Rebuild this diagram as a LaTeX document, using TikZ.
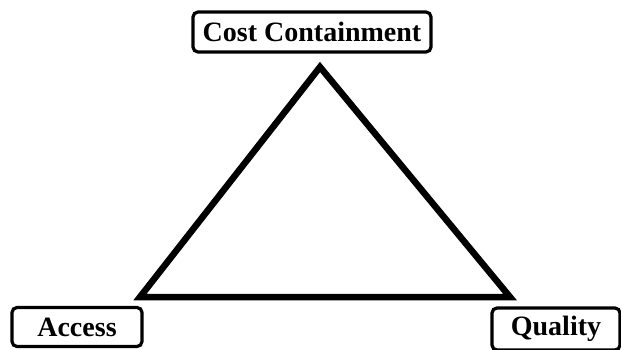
\documentclass[tikz,border=0pt]{standalone}
\usepackage{fontspec}
\setmainfont{Liberation Serif}
\begin{document}
\begin{tikzpicture}[x=1pt,y=1pt,
  label box/.style={draw, line width=3.2pt, rounded corners=5pt, inner sep=0pt, font=\fontsize{28}{30}\selectfont\bfseries},
  tri/.style={line width=6.5pt, line join=miter}]
\useasboundingbox (0,0) rectangle (621,349);
\node[label box, minimum width=238pt, minimum height=40pt] (cost) at (312,317) {Cost Containment};
\node[label box, minimum width=130pt, minimum height=39pt] (access) at (77,22) {Access};
\node[label box, minimum width=128pt, minimum height=42pt] (quality) at (556,20) {Quality};
\coordinate (apex) at (320,282);
\coordinate (bl) at (140,52);
\coordinate (br) at (510,52);
\draw[tri] (apex) -- (bl) -- (br) -- cycle;
\end{tikzpicture}
\end{document}
